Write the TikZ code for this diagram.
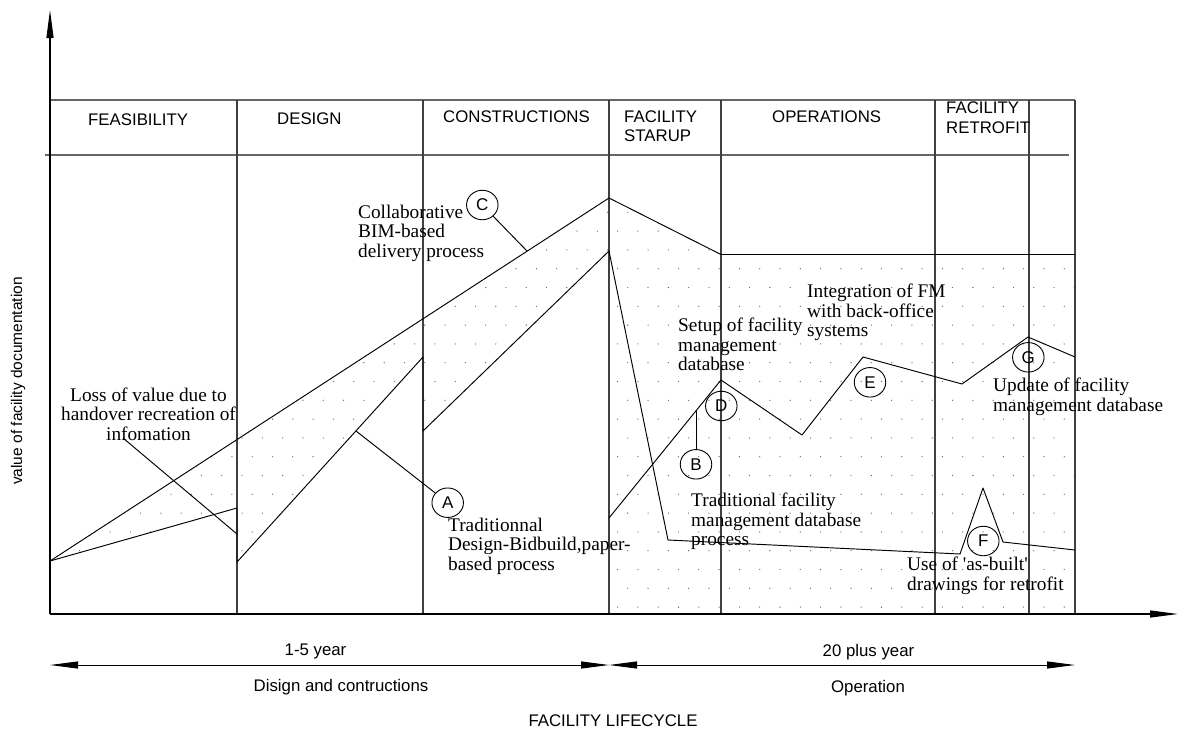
\documentclass[tikz,border=0pt]{standalone}
\usepackage{fontspec}
\setmainfont{Liberation Serif}
\setsansfont{Liberation Sans}
\usetikzlibrary{arrows.meta,shapes.geometric}

\begin{document}
\begin{tikzpicture}[x=1pt,y=-1pt,
  hdrline/.style={draw=black!60, line width=1.7pt},
  divider/.style={draw=black!75, line width=1.2pt},
  plotline/.style={draw=black, line width=0.95pt, line join=round},
  axisline/.style={draw=black, line width=1.2pt},
  longtip/.tip={Triangle[length=28pt,width=7pt]},
  % multi-line texts are placed by the baseline of their last line
  hdrtext/.style={font=\sffamily\fontsize{16.8}{19.6}\selectfont, anchor=base west, align=left, inner sep=0pt},
  notetext/.style={font=\rmfamily\fontsize{19.3}{19.6}\selectfont, anchor=base west, align=left, inner sep=0pt},
  spantext/.style={font=\sffamily\fontsize{16.8}{19}\selectfont, anchor=base, inner sep=0pt},
  lettertag/.style={draw, ellipse, minimum width=31.5pt, minimum height=29.5pt, inner sep=0pt,
                    line width=0.9pt, font=\sffamily\fontsize{17}{19}\selectfont},
  dotcol/.style={fill=black!60},
]
\useasboundingbox (0,0) rectangle (1178,729);

% ---- key points of the value curves ----
\coordinate (p0)    at (50,561);
\coordinate (bimtop) at (609,198);
\coordinate (bimstep) at (721,254.5);
\coordinate (bimend) at (1075,254.5);
\coordinate (t1) at (237,508);
\coordinate (t2) at (237,562);
\coordinate (t3) at (423,357);
\coordinate (t4) at (423,431);
\coordinate (t5) at (609,251);
\coordinate (t6) at (668,540);
\coordinate (t7) at (960,554);
\coordinate (t8) at (983,488);
\coordinate (t9) at (1003,542);
\coordinate (t10) at (1075,550);
\coordinate (f1) at (609,518);
\coordinate (f2) at (721,380);
\coordinate (f3) at (802,435);
\coordinate (f4) at (863,357);
\coordinate (f5) at (962,384);
\coordinate (f6) at (1028,337);
\coordinate (f7) at (1075,357);

% ---- dotted value areas (staggered dot grid) ----
\begin{scope}
  \clip (p0) -- (bimtop) -- (t5) -- (t4) -- (t3) -- (t2) -- (t1) -- cycle
        (bimtop) -- (bimstep) -- (bimend) -- (1075,614) -- (609,614) -- cycle;
  \foreach \j in {0,...,23} {
    \pgfmathsetmacro{\rowshift}{mod(\j,2)*10.15}
    \foreach \i in {0,...,51}
      \fill[dotcol] ({49.2+\rowshift+20.3*\i},{193.5+18.8*\j}) circle (0.65pt);
  }
\end{scope}

% ---- phase table ----
\draw[hdrline] (50,100) -- (1075,100);
\draw[hdrline] (45,155) -- (1069,155);
\foreach \xx in {237,423,609,721,935,1029,1075}
  \draw[divider] (\xx,100) -- (\xx,614);

\node[hdrtext] (feas)  at (88,125.5)  {FEASIBILITY};
\node[hdrtext] (dsgn)  at (277,124.3) {DESIGN};
\node[hdrtext] (cons)  at (443,122)   {CONSTRUCTIONS};
\node[hdrtext] (start) at (624,141.7) {FACILITY\\STARUP};
\node[hdrtext] (oper)  at (772,122.3) {OPERATIONS};
\node[hdrtext] (retro) at (946,133.5) {FACILITY\\RETROFIT};

% ---- axes ----
\coordinate (origin) at (50,614);
\coordinate (ytip) at (50,10);
\coordinate (xtip) at (1178,614);
\draw[axisline, -{longtip}] (origin) -- (ytip);
\draw[axisline, -{longtip}] (origin) -- (xtip);

% ---- value curves ----
\draw[plotline] (p0) -- (bimtop) -- (bimstep) -- (bimend);
\draw[plotline] (p0) -- (t1) -- (t2) -- (t3) -- (t4) -- (t5) -- (t6) -- (t7) -- (t8) -- (t9) -- (t10);
\draw[plotline] (f1) -- (f2) -- (f3) -- (f4) -- (f5) -- (f6) -- (f7);

% ---- annotations ----
\node[notetext, anchor=base, align=center] (loss) at (148.5,440.5)
  {Loss of value due to\\handover recreation of\\infomation};
\coordinate (lossfrom) at (123,438);
\coordinate (lossfoot) at (237,534);
\draw[plotline] (lossfrom) -- (lossfoot);

\node[lettertag] (C) at (482.3,205) {C};
\coordinate (cfoot) at (527,251);
\draw[plotline] (C) -- (cfoot);
\node[notetext] (collab) at (358,257.2) {Collaborative\\BIM-based\\delivery process};

\node[lettertag] (A) at (447.7,502.7) {A};
\coordinate (afoot) at (356,431);
\draw[plotline] (afoot) -- (A);
\node[notetext] (trad) at (448,570.3) {Traditionnal\\Design-Bidbuild,paper-\\based process};

\node[lettertag] (B) at (696,464.3) {B};
\coordinate (bfoot) at (696,411);
\draw[plotline] (B) -- (bfoot);
\node[notetext] (tradfm) at (691,545.7) {Traditional facility\\management database\\process};

\node[lettertag] (D) at (721.3,406) {D};
\node[notetext] (setup) at (678,370.7) {Setup of facility\\management\\database};

\node[lettertag] (E) at (870,382.3) {E};
\node[notetext] (integ) at (807,336.7) {Integration of FM\\with back-office\\systems};

\node[lettertag] (G) at (1028.3,357.3) {G};
\node[notetext] (upd) at (993,411.1) {Update of facility\\management database};

\node[lettertag] (F) at (983.3,541) {F};
\node[notetext] (asbuilt) at (907,590.1)
  {Use of \textquotesingle as-built\textquotesingle\\drawings for retrofit};

% ---- axis labels and time spans ----
\node[rotate=90, inner sep=0pt, font=\sffamily\fontsize{15.5}{18}\selectfont] (ylabel) at (18,381)
  {value of facility documentation};

\coordinate (spanL) at (50,665);
\coordinate (spanM) at (609,665);
\coordinate (spanR) at (1075,665);
\draw[line width=1pt, {longtip}-{longtip}] (spanL) -- (spanM);
\draw[line width=1pt, {longtip}-{longtip}] (spanM) -- (spanR);

\node[spantext] (yrs1) at (315.5,655.5) {1-5 year};
\node[spantext] (dc)   at (341,691)   {Disign and contructions};
\node[spantext] (yrs2) at (868.5,656.5) {20 plus year};
\node[spantext] (op)   at (868,692)   {Operation};
\node[spantext] (life) at (613,726)   {FACILITY LIFECYCLE};
\end{tikzpicture}
\end{document}
